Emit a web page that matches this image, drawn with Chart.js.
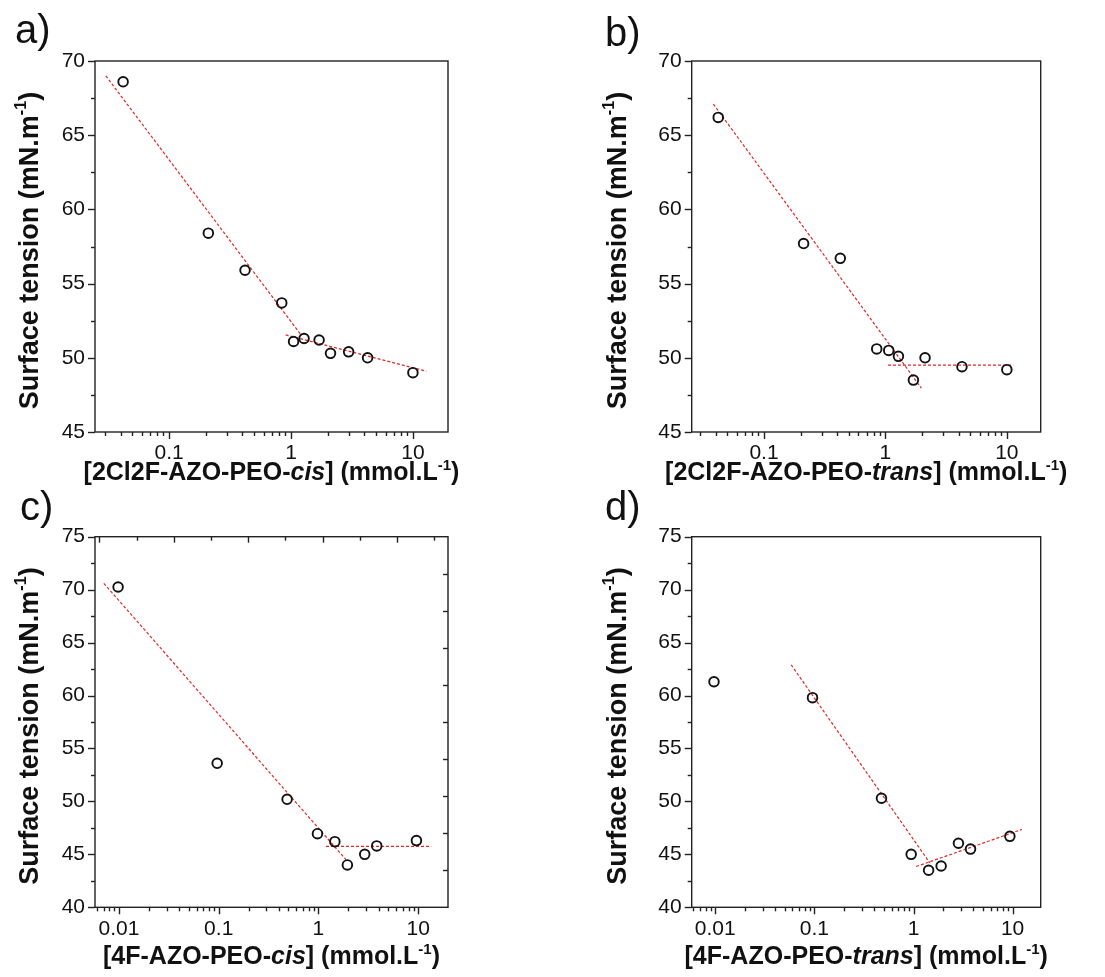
<!DOCTYPE html>
<html>
<head>
<meta charset="utf-8">
<script src="https://cdn.jsdelivr.net/npm/chart.js@4.4.1/dist/chart.umd.min.js"></script>
<style>
  html, body { margin: 0; padding: 0; background: #fff; }
  #wrap { position: relative; width: 1105px; height: 977px; overflow: hidden; }
  canvas { position: absolute; }
</style>
</head>
<body>
<div id="wrap">
  <canvas id="pa" style="left:0px;top:0px" width="550" height="490"></canvas>
  <canvas id="pb" style="left:550px;top:0px" width="555" height="490"></canvas>
  <canvas id="pc" style="left:0px;top:460px" width="550" height="517"></canvas>
  <canvas id="pd" style="left:550px;top:460px" width="555" height="517"></canvas>
</div>
<script>
// a) 2Cl2F-AZO-PEO cis
const cisClConc = [0.042, 0.21, 0.42, 0.84, 1.05, 1.28, 1.70, 2.11, 2.97, 4.25, 10.0];
const cisClTension = [68.6, 58.4, 55.9, 53.7, 51.1, 51.3, 51.2, 50.3, 50.4, 50.0, 49.0];
const cisClFit1X = [0.0303, 1.22];
const cisClFit1Y = [69.0, 51.5];
const cisClFit2X = [0.904, 12.9];
const cisClFit2Y = [51.55, 49.1];

// b) 2Cl2F-AZO-PEO trans
const transClConc = [0.042, 0.212, 0.425, 0.848, 1.065, 1.28, 1.70, 2.12, 4.27, 10.0];
const transClTension = [66.2, 57.7, 56.7, 50.6, 50.5, 50.1, 48.5, 50.0, 49.4, 49.2];
const transClFit1X = [0.0383, 1.98];
const transClFit1Y = [67.1, 47.95];
const transClFit2X = [1.05, 11.3];
const transClFit2Y = [49.5, 49.5];

// c) 4F-AZO-PEO cis
const cisFConc = [0.0098, 0.0965, 0.485, 0.977, 1.46, 1.95, 2.91, 3.84, 9.6];
const cisFTension = [70.25, 53.6, 50.2, 46.95, 46.2, 44.0, 45.0, 45.8, 46.3];
const cisFFit1X = [0.00705, 1.89];
const cisFFit1Y = [70.6, 44.5];
const cisFFit2X = [1.19, 13.5];
const cisFFit2Y = [45.75, 45.75];

// d) 4F-AZO-PEO trans
const transFConc = [0.0097, 0.0957, 0.475, 0.947, 1.42, 1.90, 2.84, 3.76, 9.38];
const transFTension = [61.3, 59.8, 50.3, 45.0, 43.5, 43.9, 46.05, 45.5, 46.7];
const transFFit1X = [0.0583, 1.46];
const transFFit1Y = [62.9, 44.2];
const transFFit2X = [1.064, 12.4];
const transFFit2Y = [43.85, 47.35];

const xTickLabelsTop = ['0.1', '1', '10'];
const xTickLabelsBottom = ['0.01', '0.1', '1', '10'];
const yRangeTop = [45, 70];
const yRangeBottom = [40, 75];

const FONT = '"Liberation Sans", Arial, sans-serif';
const INK = '#111';
const FIT_RED = '#e02828';

function pts(xs, ys) {
  return xs.map((x, i) => ({ x: x, y: ys[i] }));
}

function logTicks(min, max) {
  const out = [];
  for (let d = Math.floor(Math.log10(min)); d <= Math.floor(Math.log10(max)); d++) {
    for (let m = 1; m <= 9; m++) {
      const v = m * Math.pow(10, d);
      if (v >= min && v <= max) out.push({ value: v });
    }
  }
  return out;
}

function isDecade(v) {
  const l = Math.log10(v);
  return Math.abs(l - Math.round(l)) < 1e-9;
}

function drawRich(ctx, parts, size) {
  let w = 0;
  const measure = [];
  parts.forEach(p => {
    const fs = p.sup ? size * 0.6 : size;
    ctx.font = (p.italic ? 'italic ' : '') + 'bold ' + fs + 'px ' + FONT;
    const pw = ctx.measureText(p.t).width;
    measure.push({ p, fs, pw });
    w += pw;
  });
  let x = -w / 2;
  measure.forEach(m => {
    ctx.font = (m.p.italic ? 'italic ' : '') + 'bold ' + m.fs + 'px ' + FONT;
    ctx.fillText(m.p.t, x, m.p.sup ? -size * 0.42 : 0);
    x += m.pw;
  });
}

function tickLine(ctx, x1, y1, x2, y2) {
  ctx.beginPath();
  ctx.moveTo(x1, y1);
  ctx.lineTo(x2, y2);
  ctx.stroke();
}

const deco = {
  id: 'deco',
  afterDraw(chart, args, o) {
    const ctx = chart.ctx;
    const a = chart.chartArea;
    const sx = chart.scales.x, sy = chart.scales.y;
    const xt = logTicks(sx.min, sx.max);
    ctx.save();
    ctx.strokeStyle = '#222';
    ctx.fillStyle = INK;
    ctx.lineWidth = 1.4;
    ctx.strokeRect(a.left, a.top, a.right - a.left, a.bottom - a.top);

    // bottom ticks, outward
    xt.forEach(t => {
      const px = Math.round(sx.getPixelForValue(t.value)) + 0.5;
      tickLine(ctx, px, a.bottom, px, a.bottom + (isDecade(t.value) ? 7 : 4));
    });
    // left ticks, outward
    for (let v = sy.min; v <= sy.max + 1e-9; v += 2.5) {
      const py = Math.round(sy.getPixelForValue(v)) + 0.5;
      tickLine(ctx, a.left, py, a.left - (v % 5 === 0 ? 7 : 4), py);
    }
    // mirrored inward ticks (panel c only)
    const x2 = chart.scales.x2, y2 = chart.scales.y2;
    if (x2) {
      for (let v = Math.ceil(x2.min); v <= x2.max; v++) {
        const px = Math.round(x2.getPixelForValue(v)) + 0.5;
        tickLine(ctx, px, a.top, px, a.top + (v % 2 ? 6 : 4));
      }
    }
    if (y2) {
      for (let v = y2.min + 1; v < y2.max; v++) {
        const py = Math.round(y2.getPixelForValue(v)) + 0.5;
        tickLine(ctx, a.right, py, a.right - 5, py);
      }
    }

    // panel letter
    ctx.font = '40px ' + FONT;
    ctx.textAlign = 'left';
    ctx.textBaseline = 'alphabetic';
    ctx.fillText(o.letter, o.letterX, o.letterY);

    // x title
    ctx.save();
    ctx.translate((a.left + a.right) / 2, a.bottom + o.xTitleOff);
    drawRich(ctx, o.xTitle, 25);
    ctx.restore();

    // y title
    ctx.save();
    ctx.translate(a.left - o.yTitleOff, (a.top + a.bottom) / 2 + 4);
    ctx.rotate(-Math.PI / 2);
    drawRich(ctx, o.yTitle, 27);
    ctx.restore();

    ctx.restore();
  }
};

const yTitle = [{ t: 'Surface tension (mN.m' }, { t: '-1', sup: true }, { t: ')' }];

function makePanel(id, p) {
  const cv = document.getElementById(id);
  const W = cv.width, H = cv.height;
  const fitStyle = {
    showLine: true, borderColor: FIT_RED, borderWidth: 1.2, borderDash: [3, 2],
    pointRadius: 0, fill: false, order: 2
  };
  const scales = {
    x: {
      type: 'logarithmic', min: p.xMin, max: p.xMax,
      grid: { display: false, drawTicks: false }, border: { display: false },
      afterBuildTicks: s => { s.ticks = logTicks(p.xMin, p.xMax); },
      afterFit: s => { s.height = 40; },
      ticks: {
        autoSkip: false, maxRotation: 0, padding: 9, color: INK,
        font: { family: FONT, size: 21 },
        callback: v => {
          const lab = p.xLabels.find(l => Math.abs(Number(l) - v) < 1e-9 * Math.max(1, v));
          return lab === undefined ? '' : lab;
        }
      }
    },
    y: {
      type: 'linear', min: p.yRange[0], max: p.yRange[1],
      grid: { display: false, drawTicks: false }, border: { display: false },
      afterFit: s => { s.width = p.left; },
      ticks: {
        stepSize: 2.5, padding: 10, color: INK,
        font: { family: FONT, size: 21 },
        callback: v => (v % 5 === 0 ? String(v) : '')
      }
    }
  };
  if (p.mirror) {
    scales.x2 = {
      type: 'linear', position: 'top', min: -1.12, max: 8.37,
      ticks: { display: false, stepSize: 1 }, grid: { display: false, drawTicks: false },
      border: { display: false }, afterFit: s => { s.height = 0; }
    };
    scales.y2 = {
      type: 'linear', position: 'right', min: 0, max: 10,
      ticks: { display: false, stepSize: 1 }, grid: { display: false, drawTicks: false },
      border: { display: false }, afterFit: s => { s.width = 0; }
    };
  }
  return new Chart(cv, {
    type: 'scatter',
    data: {
      datasets: [
        Object.assign({ data: pts(p.fit1X, p.fit1Y) }, fitStyle),
        Object.assign({ data: pts(p.fit2X, p.fit2Y) }, fitStyle),
        {
          data: pts(p.conc, p.tension), pointStyle: 'circle', pointRadius: 4.8,
          borderColor: INK, borderWidth: 1.9, backgroundColor: 'rgba(0,0,0,0)', order: 1
        }
      ]
    },
    options: {
      responsive: false, animation: false,
      layout: { padding: { left: 0, top: p.top, right: W - p.right, bottom: H - p.bottom - 40 } },
      plugins: {
        legend: { display: false }, tooltip: { enabled: false },
        deco: {
          letter: p.letter, letterX: p.letterX, letterY: p.letterY,
          xTitle: p.xTitle, yTitle: yTitle, xTitleOff: p.xTitleOff, yTitleOff: p.yTitleOff
        }
      },
      scales: scales
    },
    plugins: [deco]
  });
}

makePanel('pa', {
  conc: cisClConc, tension: cisClTension,
  fit1X: cisClFit1X, fit1Y: cisClFit1Y, fit2X: cisClFit2X, fit2Y: cisClFit2Y,
  xMin: 0.0247, xMax: 19.4, yRange: yRangeTop, xLabels: xTickLabelsTop,
  left: 95, top: 61, right: 448, bottom: 432,
  letter: 'a)', letterX: 15, letterY: 43, xTitleOff: 48, yTitleOff: 57.5,
  xTitle: [{ t: '[2Cl2F-AZO-PEO-' }, { t: 'cis', italic: true }, { t: '] (mmol.L' }, { t: '-1', sup: true }, { t: ')' }]
});

makePanel('pb', {
  conc: transClConc, tension: transClTension,
  fit1X: transClFit1X, fit1Y: transClFit1Y, fit2X: transClFit2X, fit2Y: transClFit2Y,
  xMin: 0.0254, xMax: 19.0, yRange: yRangeTop, xLabels: xTickLabelsTop,
  left: 141.7, top: 61, right: 490.7, bottom: 432,
  letter: 'b)', letterX: 55, letterY: 46, xTitleOff: 48, yTitleOff: 66,
  xTitle: [{ t: '[2Cl2F-AZO-PEO-' }, { t: 'trans', italic: true }, { t: '] (mmol.L' }, { t: '-1', sup: true }, { t: ')' }]
});

makePanel('pc', {
  conc: cisFConc, tension: cisFTension,
  fit1X: cisFFit1X, fit1Y: cisFFit1Y, fit2X: cisFFit2X, fit2Y: cisFFit2Y,
  xMin: 0.00575, xMax: 19.9, yRange: yRangeBottom, xLabels: xTickLabelsBottom,
  left: 95, top: 76.7, right: 448, bottom: 447.3, mirror: true,
  letter: 'c)', letterX: 20, letterY: 60, xTitleOff: 57, yTitleOff: 57.5,
  xTitle: [{ t: '[4F-AZO-PEO-' }, { t: 'cis', italic: true }, { t: '] (mmol.L' }, { t: '-1', sup: true }, { t: ')' }]
});

makePanel('pd', {
  conc: transFConc, tension: transFTension,
  fit1X: transFFit1X, fit1Y: transFFit1Y, fit2X: transFFit2X, fit2Y: transFFit2Y,
  xMin: 0.00578, xMax: 19.2, yRange: yRangeBottom, xLabels: xTickLabelsBottom,
  left: 141.7, top: 76.7, right: 490.7, bottom: 447.3,
  letter: 'd)', letterX: 55, letterY: 60, xTitleOff: 57, yTitleOff: 66,
  xTitle: [{ t: '[4F-AZO-PEO-' }, { t: 'trans', italic: true }, { t: '] (mmol.L' }, { t: '-1', sup: true }, { t: ')' }]
});
</script>
</body>
</html>
